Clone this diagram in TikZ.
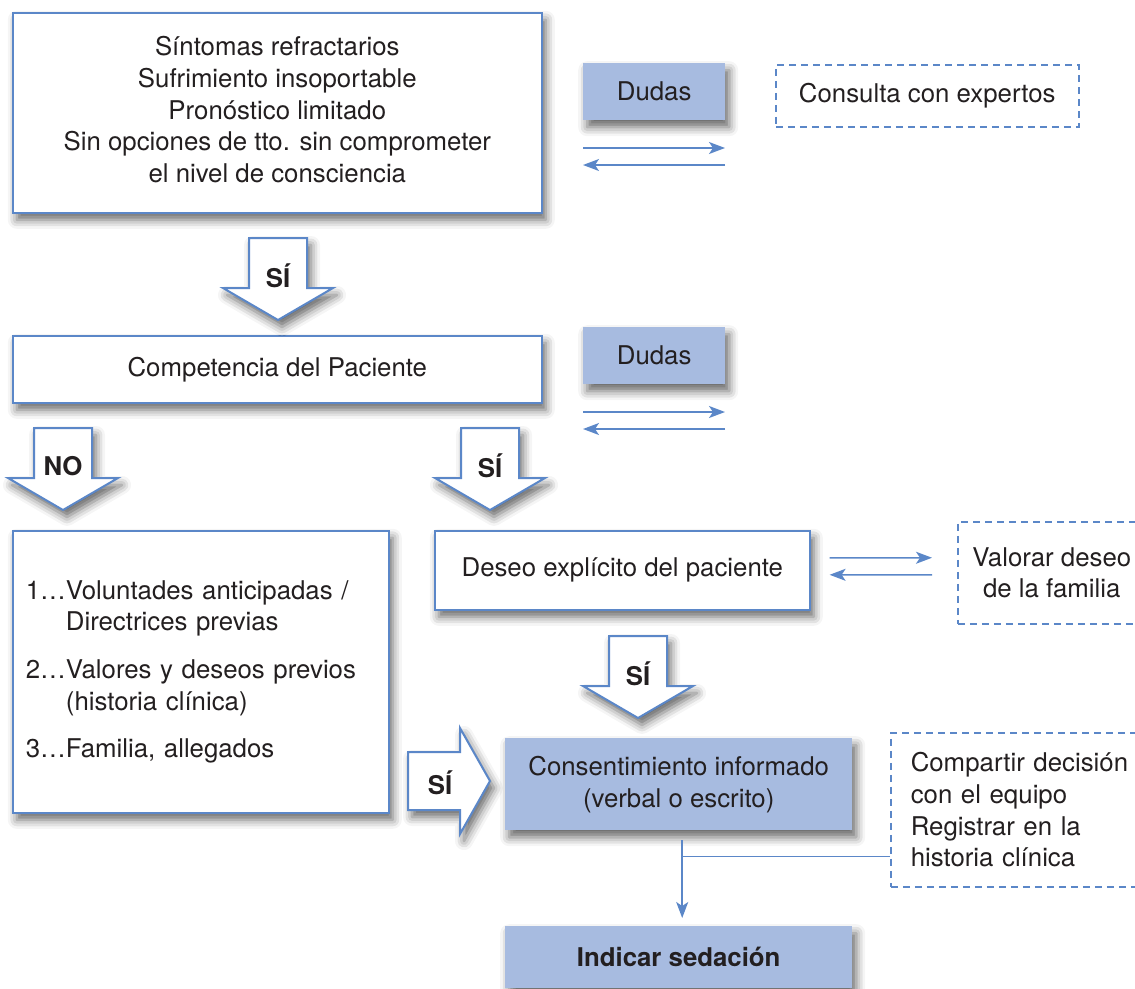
\documentclass[tikz,border=0pt]{standalone}
\usepackage{fontspec}
\setmainfont{TeX Gyre Heros}
\usetikzlibrary{arrows.meta,shadows.blur}
\definecolor{lineblue}{RGB}{91,135,200}
\definecolor{boxfill}{RGB}{167,187,224}
\definecolor{ink}{RGB}{35,31,32}
\newcommand{\bigtext}{\fontsize{25.8}{31.8}\selectfont}

\begin{document}
\begin{tikzpicture}[x=1pt,y=-1pt,
	every node/.style={text=ink, font=\bigtext},
	softshadow/.style={blur shadow={shadow xshift=4pt, shadow yshift=-7pt, shadow blur radius=9pt, shadow opacity=60}},
	plainbox/.style={draw=lineblue, line width=1.6pt, fill=white, softshadow, anchor=north west, align=center, inner sep=0pt},
	dudasbox/.style={fill=boxfill, softshadow, anchor=north west, align=center, inner sep=0pt},
	extrabox/.style={draw=lineblue, line width=1.5pt, dash pattern=on 7pt off 5pt, anchor=north west, align=center, inner sep=0pt},
	link/.style={draw=lineblue, line width=1.5pt, -{Stealth[length=16pt, width=12pt, inset=4pt]}},
	blockarrow/.style={draw=lineblue, line width=2pt, fill=white, line join=miter, softshadow},
	answer/.style={font=\bigtext\bfseries}]
	\useasboundingbox (0,0) rectangle (1135,988);
	% first question
	\node[plainbox, minimum width=529pt, minimum height=200pt] (sintomas) at (12,12)
		{Síntomas refractarios\\ Sufrimiento insoportable\\ Pronóstico limitado\\ Sin opciones de tto. sin comprometer\\ el nivel de consciencia\\[-25pt]};
	\node[dudasbox, minimum width=142pt, minimum height=57pt] (dudas1) at (583,63) {Dudas};
	\node[extrabox, minimum width=303pt, minimum height=62pt] (expertos) at (775,64) {Consulta con expertos};
	% competence
	\node[plainbox, minimum width=529pt, minimum height=67pt] (competencia) at (12,335) {Competencia del Paciente};
	\node[dudasbox, minimum width=142pt, minimum height=57pt] (dudas2) at (583,327) {Dudas};
	% back and forth arrows under both Dudas
	\foreach \ya [count=\i] in {148,412}
	{
		\coordinate (from\i) at (583,\ya);
		\coordinate (to\i) at (725,\ya);
		\draw[link] (from\i) -- (to\i);
		\draw[link] ([yshift=-17pt]to\i) -- ([yshift=-17pt]from\i);
	}
	% block arrows pointing down
	\foreach \tx/\ty/\answ [count=\i] in {278/238/SÍ, 63/428/NO, 490/428/SÍ, 638/636/SÍ}
	{
		\draw[blockarrow] (\tx-29,\ty) -- (\tx+29,\ty) -- (\tx+29,\ty+50) -- (\tx+55,\ty+50)
			-- (\tx,\ty+82) -- (\tx-55,\ty+50) -- (\tx-29,\ty+50) -- cycle;
		\node[answer] (answer\i) at (\tx,\ty+38) {\answ};
	}
	% no competence
	\node[plainbox, minimum height=282pt, text width=350pt, inner sep=13pt, align=left] (previas) at (12,530)
		{\begin{tabular}{@{}l@{}l@{}}
			1… & Voluntades anticipadas /\\
			& Directrices previas\\[16pt]
			2… & Valores y deseos previos\\
			& (historia clínica)\\[15pt]
			3… & Familia, allegados
		\end{tabular}};
	% competence
	\node[plainbox, minimum width=375pt, minimum height=79pt] (deseo) at (434,530) {Deseo explícito del paciente};
	\node[extrabox, minimum width=188pt, minimum height=102pt] (valorar) at (957,521) {Valorar deseo\\ de la familia};
	\draw[link] ([xshift=19pt, yshift=12.5pt]deseo.east) -- ([xshift=-25pt, yshift=15pt]valorar.west);
	\draw[link] ([xshift=-25pt, yshift=-2pt]valorar.west) -- ([xshift=19pt, yshift=-4.5pt]deseo.east);
	% sideways arrow
	\draw[blockarrow] (408,752) -- (460,752) -- (460,728) -- (490,781) -- (460,834) -- (460,810) -- (408,810) -- cycle;
	\node[answer] (answer5) at (440,783) {SÍ};
	% consent and decision
	\node[dudasbox, minimum width=347pt, minimum height=92pt] (consent) at (505,738) {Consentimiento informado\\ (verbal o escrito)};
	\node[extrabox, text width=240pt, inner xsep=20pt, minimum height=154pt, align=left] (compartir) at (890,732)
		{Compartir decisión\\ con el equipo\\ Registrar en la\\ historia clínica};
	\node[dudasbox, answer, minimum width=347pt, minimum height=62pt] (indicar) at (505,926) {Indicar sedación};
	\coordinate (join) at ([xshift=3.5pt, yshift=-26pt]consent.south);
	\draw[link] ([xshift=3.5pt, yshift=-10pt]consent.south) -- ([xshift=3.5pt, yshift=8pt]indicar.north);
	\draw[lineblue, line width=1.5pt] (join) -- (join -| compartir.west);
\end{tikzpicture}
\end{document}
